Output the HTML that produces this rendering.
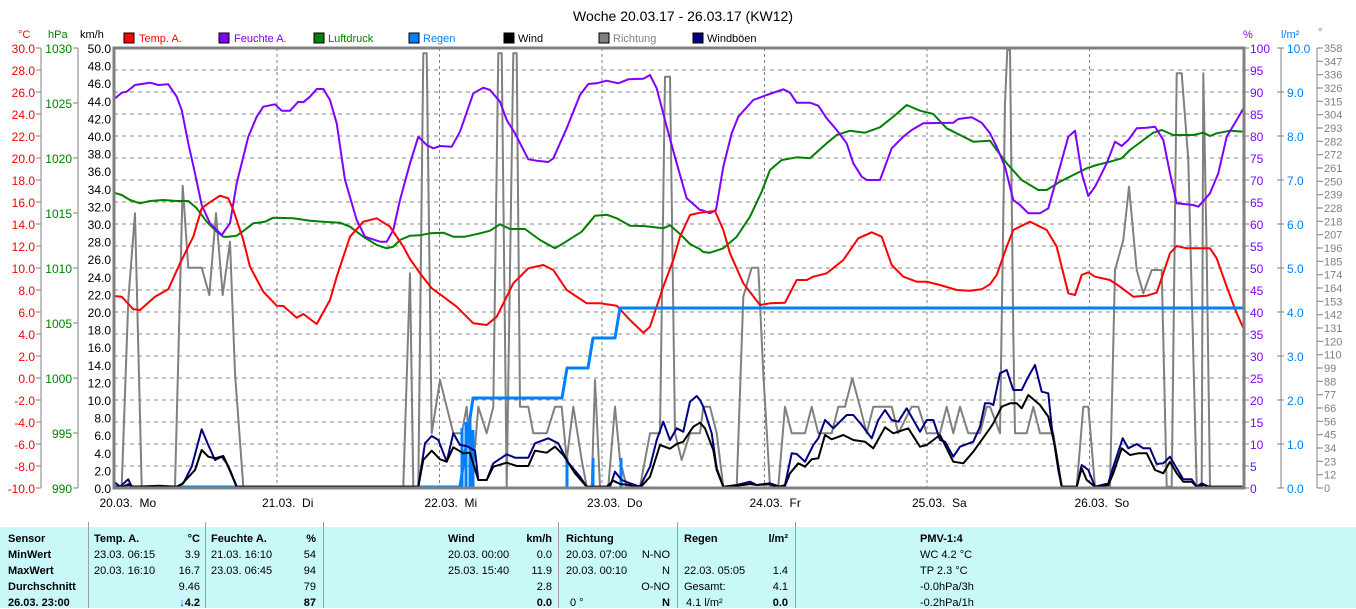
<!DOCTYPE html>
<html><head><meta charset="utf-8">
<style>
html,body{margin:0;padding:0;background:#fff;width:1356px;height:608px;overflow:hidden}
svg{display:block;font-family:"Liberation Sans",sans-serif}
.tb{position:absolute;left:0;top:527px;width:1356px;height:81px;background:#c8f8f8;font-family:"Liberation Sans",sans-serif;font-size:11px}
.tb div{position:absolute;white-space:nowrap;transform-origin:left top}
.b{font-weight:bold}
.sep{position:absolute;top:-5px;width:1px;height:86px;background:#a0a0a0}
</style></head><body>
<svg id="s" width="1356" height="527" viewBox="0 0 1356 527">
<text x="683" y="21" text-anchor="middle" font-size="14" fill="#000">Woche 20.03.17 - 26.03.17 (KW12)</text>
<g font-size="11">
<text x="18" y="38" fill="#f00">°C</text>
<text x="48" y="38" fill="#008000">hPa</text>
<text x="80" y="38" fill="#000">km/h</text>
<text x="1243" y="38" fill="#8000ff">%</text>
<text x="1281" y="38" fill="#0080ff">l/m²</text>
<text x="1318" y="36" fill="#808080">°</text>
<rect x="124" y="33" width="10" height="10" fill="#f00" stroke="#000"/><text x="139" y="42" fill="#f00">Temp. A.</text>
<rect x="219" y="33" width="10" height="10" fill="#8000ff" stroke="#000"/><text x="234" y="42" fill="#8000ff">Feuchte A.</text>
<rect x="314" y="33" width="10" height="10" fill="#008000" stroke="#000"/><text x="328" y="42" fill="#008000">Luftdruck</text>
<rect x="409" y="33" width="10" height="10" fill="#0080ff" stroke="#000"/><text x="423" y="42" fill="#0080ff">Regen</text>
<rect x="504" y="33" width="10" height="10" fill="#000" stroke="#000"/><text x="518" y="42" fill="#000">Wind</text>
<rect x="599" y="33" width="10" height="10" fill="#808080" stroke="#000"/><text x="613" y="42" fill="#808080">Richtung</text>
<rect x="693" y="33" width="10" height="10" fill="#000080" stroke="#000"/><text x="707" y="42" fill="#000">Windböen</text>
</g>
<g id="axes" font-size="12"></g>
<g id="grid"></g>
<g id="series" fill="none" stroke-width="2" stroke-linejoin="round"></g>
<rect x="114" y="48" width="1130" height="440" fill="none" stroke="#808080" stroke-width="3"/>
<g id="days" font-size="12" fill="#000"></g>
</svg>
<div class="tb" id="tb">
<div class="sep" style="left:88px"></div><div class="sep" style="left:205px"></div><div class="sep" style="left:323px"></div><div class="sep" style="left:558px"></div><div class="sep" style="left:677px"></div><div class="sep" style="left:795px"></div>
</div>
<script>
var NS="http://www.w3.org/2000/svg";
function el(p,t,a,txt){var e=document.createElementNS(NS,t);for(var k in a)e.setAttribute(k,a[k]);if(txt!=null)e.textContent=txt;p.appendChild(e);return e;}
var ax=document.getElementById('axes'),gr=document.getElementById('grid'),se=document.getElementById('series'),dy=document.getElementById('days');
// left axes
el(ax,'line',{x1:41,y1:48,x2:41,y2:488,stroke:'#808080'});
el(ax,'line',{x1:78,y1:48,x2:78,y2:488,stroke:'#808080'});
for(var i=0;i<=20;i++){var y=48+22*i;el(ax,'text',{x:35,y:y+5,'text-anchor':'end',fill:'#f00'},(30-2*i).toFixed(1));el(ax,'line',{x1:36,y1:y,x2:41,y2:y,stroke:'#808080'});}
for(var i=0;i<=8;i++){var y=48+55*i;el(ax,'text',{x:72,y:y+5,'text-anchor':'end',fill:'#008000'},1030-5*i);el(ax,'line',{x1:73,y1:y,x2:78,y2:y,stroke:'#808080'});}
for(var i=0;i<=25;i++){var y=48+17.6*i;el(ax,'text',{x:111,y:y+5,'text-anchor':'end',fill:'#000'},(50-2*i).toFixed(1));}
// right axes
for(var i=0;i<=20;i++){var y=48+22*i;el(ax,'text',{x:1250,y:y+5,fill:'#8000ff'},100-5*i);el(ax,'line',{x1:1244,y1:y,x2:1249,y2:y,stroke:'#808080'});}
el(ax,'line',{x1:1281,y1:48,x2:1281,y2:488,stroke:'#808080'});
for(var i=0;i<=10;i++){var y=48+44*i;el(ax,'text',{x:1287,y:y+5,fill:'#0080ff'},(10-i).toFixed(1));el(ax,'line',{x1:1277,y1:y,x2:1284,y2:y,stroke:'#808080'});}
el(ax,'line',{x1:1317,y1:48,x2:1317,y2:488,stroke:'#808080'});
var dg=[358,347,336,326,315,304,293,282,272,261,250,239,228,218,207,196,185,174,164,153,142,131,120,110,99,88,77,66,56,45,34,23,12,0];
for(var i=0;i<dg.length;i++){var y=48+440/33*i;el(ax,'text',{x:1324,y:y+4,fill:'#808080','font-size':'11'},dg[i]);el(ax,'line',{x1:1317,y1:y,x2:1323,y2:y,stroke:'#808080'});}
// grid
for(var i=1;i<20;i++){var y=48+22*i;el(gr,'line',{x1:114,y1:y,x2:1244,y2:y,stroke:'#808080','stroke-dasharray':'4,4'});}
var dn=['20.03.  Mo','21.03.  Di','22.03.  Mi','23.03.  Do','24.03.  Fr','25.03.  Sa','26.03.  So'];
for(var k=0;k<7;k++){var x=114.5+162.5*k;if(k>0)el(gr,'line',{x1:x,y1:48,x2:x,y2:488,stroke:'#808080','stroke-dasharray':'3,3'});var t=el(dy,'text',{x:x-15,y:507},dn[k]);t.setAttribute('xml:space','preserve');t.style.whiteSpace='pre';}
function build(segs){var out=[],last=-1e9;segs.forEach(function(s){s[1].forEach(function(p){var X=s[0]+p[0]/3,Y=40+p[1]/3;if(X>last){out.push(X.toFixed(1)+','+Y.toFixed(1));last=X;}});});return out.join(' ');}
function line(col,segs,w){el(se,'polyline',{points:build(segs),stroke:col,'stroke-width':w||2});}
var gray=[[110,[[12,1340],[35,1340],[55,780],[75,520],[95,1340],[195,1340],[218,437],[235,683],[275,683],[298,765],[318,520],[338,765],[360,605],[375,1000],[400,1340]]],
[400,[[10,1340],[30,700],[40,1340],[55,1340],[70,40],[80,40],[95,1180],[120,1020],[160,1180],[185,1180],[200,1100],[215,1340],[235,1100],[260,1180],[280,1100],[295,40],[305,40],[320,1340],[340,40],[350,40],[360,1100],[385,1100],[400,1180],[440,1180],[465,1100],[485,1100],[500,1260],[520,1100],[545,1260],[560,1340],[575,1340],[585,1020],[600,1340],[625,1340],[645,1100],[660,1260],[680,1340],[720,1340],[750,1180],[780,1180],[795,110],[810,110],[825,1180],[845,1260],[870,1180],[900,1180]]],
[690,[[20,1180],[40,1100],[60,1100],[80,1180],[100,1340],[140,1340],[160,770],[185,683],[205,683],[220,1000],[240,1340],[265,1340],[285,1100],[305,1180],[345,1180],[365,1100],[385,1180],[425,1180],[445,1100],[465,1100],[487,1015],[510,1100],[530,1180],[550,1100],[605,1100],[625,1180],[665,1100],[685,1100],[710,1180],[750,1180],[770,1100],[790,1180],[810,1100],[835,1180],[870,1180],[890,1100],[900,1100]]],
[980,[[20,1180],[60,1180],[75,190],[82,30],[90,30],[100,880],[105,1180],[140,1180],[160,1100],[180,1180],[220,1180],[245,1340],[290,1340],[310,1100],[325,1100],[345,1340],[390,1340],[405,690],[430,600],[447,440],[470,690],[490,760],[515,690],[545,690],[560,1340],[575,1340],[590,100],[605,100],[625,360],[650,1340],[665,1340],[670,100],[680,640],[690,1340],[793,1340]]]];
line('#808080',gray,2);
var green=[[110,[[12,458],[35,465],[60,480],[90,490],[120,483],[160,480],[200,483],[235,483],[260,505],[290,545],[320,575],[340,590],[355,590],[380,587],[400,573],[430,550],[465,545],[490,533],[550,535],[600,542],[650,546],[690,548],[720,560],[760,590],[800,615],[830,625],[850,620],[870,600],[900,587]]],
[400,[[0,605],[25,588],[60,586],[90,580],[130,578],[160,590],[195,590],[240,580],[270,572],[300,553],[330,567],[375,567],[420,600],[465,625],[490,610],[545,575],[585,527],[620,524],[650,535],[690,557],[730,558],[790,565],[810,556],[840,582],[870,612],[900,628]]],
[690,[[0,610],[40,636],[60,638],[100,625],[140,590],[180,530],[215,455],[240,390],[275,360],[320,352],[360,355],[410,310],[440,285],[480,272],[525,278],[570,262],[610,230],[650,195],[690,212],[730,222],[770,265],[810,285],[850,305],[900,302]]],
[980,[[0,305],[25,300],[50,330],[80,370],[125,420],[175,450],[200,450],[240,425],[280,405],[320,385],[350,375],[390,365],[425,355],[450,330],[490,300],[520,278],[545,270],[580,285],[640,285],[670,278],[690,288],[710,280],[750,272],[793,275]]]];
line('#008000',green);
var purple=[[110,[[12,178],[35,158],[50,155],[75,135],[120,128],[145,135],[175,133],[200,170],[215,210],[235,310],[255,400],[275,495],[300,550],[335,585],[360,550],[380,430],[415,290],[440,230],[460,200],[495,193],[515,212],[540,212],[565,185],[580,187],[600,170],[620,147],[640,147],[660,180],[680,250],[705,420],[740,540],[765,590],[810,605],[830,605],[850,570],[870,480],[900,370]]],
[400,[[5,465],[55,290],[80,315],[100,325],[120,318],[155,320],[180,275],[220,160],[250,143],[270,150],[300,185],[320,240],[345,280],[385,358],[410,362],[445,366],[460,355],[500,265],[540,165],[565,132],[590,130],[620,122],[655,130],[685,118],[730,116],[750,105],[770,145],[800,260],[830,370],[860,475],[900,510]]],
[690,[[35,510],[60,520],[78,510],[100,380],[125,280],[145,230],[190,180],[230,165],[280,148],[300,158],[320,188],[360,188],[385,197],[410,235],[440,270],[470,310],[490,370],[515,410],[530,420],[570,420],[605,325],[640,290],[665,270],[700,250],[790,248],[805,237],[845,232],[875,248],[900,280]]],
[980,[[25,265],[50,320],[75,380],[100,480],[120,495],[145,520],[180,520],[205,505],[240,380],[265,290],[285,272],[305,400],[325,468],[345,440],[380,370],[405,305],[425,318],[445,300],[470,265],[500,263],[525,260],[550,300],[570,400],[590,490],[640,495],[655,500],[690,460],[715,400],[740,290],[770,240],[793,200]]]];
line('#8000ff',purple);
var red=[[110,[[12,768],[35,770],[70,808],[90,810],[135,770],[175,748],[210,670],[250,590],[275,505],[295,490],[330,467],[355,475],[370,510],[400,600],[420,680],[460,755],[500,797],[520,798],[560,833],[580,822],[620,852],[660,780],[680,710],[720,590],[760,545],[800,535],[840,560],[880,620],[900,657]]],
[400,[[5,615],[30,660],[60,700],[95,745],[130,770],[170,800],[220,850],[260,855],[290,830],[340,730],[385,685],[430,675],[460,690],[500,750],[560,790],[600,790],[650,797],[690,840],[730,878],[750,860],[790,740],[820,660],[840,590],[870,525],[900,518]]],
[690,[[30,515],[75,513],[100,570],[120,640],[160,730],[210,795],[240,790],[285,788],[320,720],[350,720],[370,710],[410,700],[460,660],[505,595],[545,577],[575,590],[605,675],[640,710],[680,725],[710,725],[750,735],[800,750],[840,752],[875,748],[900,733]]],
[980,[[20,745],[50,705],[80,620],[100,570],[150,545],[200,570],[230,620],[265,760],[285,765],[305,705],[325,697],[345,710],[390,720],[420,740],[460,770],[500,767],[530,758],[550,700],[570,640],[590,618],[620,625],[690,625],[710,655],[740,740],[770,820],[793,870]]]];
line('#ff0000',red);
// rain
el(se,'polyline',{points:'114,487 460,487 473,398 562,398 567,368 588,368 593,338 615,338 620,308 1244,308',stroke:'#0080ff','stroke-width':3});
[[462,428],[466,422],[470,418],[473,430],[567,458],[593,458],[621,458]].forEach(function(p){el(se,'line',{x1:p[0],y1:488,x2:p[0],y2:p[1],stroke:'#0080ff','stroke-width':3});});
var navy=[[110,[[12,1325],[30,1340],[55,1318],[65,1340],[150,1337],[200,1340],[220,1330],[245,1280],[275,1168],[295,1215],[315,1260],[335,1250],[350,1270],[380,1340],[410,1340]]],
[400,[[30,1340],[55,1340],[75,1210],[95,1188],[115,1200],[140,1265],[160,1180],[180,1215],[200,1218],[225,1232],[235,1320],[260,1320],[280,1270],[320,1243],[345,1253],[385,1253],[405,1210],[445,1195],[475,1210],[505,1268],[540,1310],[560,1340],[600,1340],[630,1340],[645,1295],[665,1320],[690,1330],[720,1340],[750,1280],[770,1200],[790,1145],[810,1200],[830,1165],[850,1175],[870,1085],[890,1068],[900,1080]]],
[690,[[20,1065],[40,1100],[65,1180],[80,1285],[100,1340],[140,1335],[180,1325],[200,1335],[240,1330],[270,1340],[285,1335],[305,1240],[320,1242],[345,1265],[370,1215],[385,1195],[405,1140],[430,1165],[470,1125],[490,1125],[515,1155],[545,1195],[565,1140],[585,1110],[605,1140],[625,1145],[650,1105],[690,1175],[710,1140],[730,1140],[750,1200],[765,1205],[790,1250],[810,1220],[850,1205],[870,1160],[885,1090],[900,1090]]],
[980,[[20,1085],[40,1095],[60,1000],[80,990],[100,1050],[125,1050],[145,1010],[165,975],[185,1055],[205,1060],[215,1160],[235,1290],[245,1340],[290,1340],[305,1275],[325,1290],[345,1340],[385,1330],[400,1280],[428,1195],[445,1225],[470,1212],[490,1225],[510,1225],[530,1272],[550,1270],[570,1250],[590,1285],[610,1318],[635,1318],[650,1340],[665,1330],[685,1340],[793,1340]]]];
line('#000080',navy);
var black=[[110,[[12,1340],[40,1340],[55,1333],[70,1340],[150,1340],[200,1340],[215,1333],[255,1290],[275,1230],[295,1250],[315,1255],[340,1248],[360,1290],[380,1340],[410,1340]]],
[400,[[30,1340],[55,1340],[70,1260],[95,1232],[120,1258],[140,1265],[160,1222],[190,1240],[210,1238],[235,1320],[260,1320],[280,1280],[320,1268],[350,1278],[385,1278],[405,1232],[440,1238],[465,1220],[490,1245],[525,1300],[560,1340],[600,1340],[620,1340],[640,1322],[660,1332],[690,1335],[700,1340],[725,1338],[750,1310],[780,1215],[810,1226],[830,1212],[850,1205],[880,1160],[900,1148]]],
[690,[[20,1148],[45,1165],[70,1230],[80,1290],[100,1340],[160,1335],[180,1332],[200,1335],[240,1333],[260,1340],[285,1337],[300,1300],[325,1270],[345,1280],[365,1258],[385,1255],[405,1185],[425,1198],[460,1185],[490,1200],[525,1205],[550,1225],[585,1162],[610,1180],[655,1165],[690,1220],[710,1215],[750,1185],[790,1265],[820,1270],[850,1235],[900,1165]]],
[980,[[40,1150],[65,1100],[90,1090],[110,1090],[125,1105],[145,1065],[180,1095],[205,1130],[225,1220],[245,1340],[290,1340],[305,1285],[320,1320],[345,1340],[385,1335],[400,1300],[425,1225],[450,1245],[475,1240],[500,1240],[525,1290],[550,1300],[570,1265],[590,1300],[610,1325],[635,1325],[650,1340],[670,1335],[690,1340],[793,1340]]]];
line('#000000',black);
// table
var tb=document.getElementById('tb');
function T(x,y,s,cls,right){var d=document.createElement('div');d.textContent=s;if(cls)d.className=cls;d.style.top=(y-527)+'px';if(right){d.style.right=(1356-x)+'px';}else d.style.left=x+'px';tb.appendChild(d);return d;}
var rows=[533,549,565,581,597];
['Sensor','MinWert','MaxWert','Durchschnitt','26.03. 23:00'].forEach(function(s,i){T(8,rows[i],s,'b');});
T(94,rows[0],'Temp. A.','b');T(200,rows[0],'°C','b',1);
T(94,rows[1],'23.03.  06:15');T(200,rows[1],'3.9','',1);
T(94,rows[2],'20.03.  16:10');T(200,rows[2],'16.7','',1);
T(200,rows[3],'9.46','',1);
var a=T(200,rows[4],'','b',1);a.innerHTML='<span style="color:#0040ff">↓</span>4.2';
T(211,rows[0],'Feuchte A.','b');T(316,rows[0],'%','b',1);
T(211,rows[1],'21.03.  16:10');T(316,rows[1],'54','',1);
T(211,rows[2],'23.03.  06:45');T(316,rows[2],'94','',1);
T(316,rows[3],'79','',1);T(316,rows[4],'87','b',1);
T(448,rows[0],'Wind','b');T(552,rows[0],'km/h','b',1);
T(448,rows[1],'20.03.  00:00');T(552,rows[1],'0.0','',1);
T(448,rows[2],'25.03.  15:40');T(552,rows[2],'11.9','',1);
T(552,rows[3],'2.8','',1);T(552,rows[4],'0.0','b',1);
T(566,rows[0],'Richtung','b');
T(566,rows[1],'20.03.  07:00');T(670,rows[1],'N-NO','',1);
T(566,rows[2],'20.03.  00:10');T(670,rows[2],'N','',1);
T(670,rows[3],'O-NO','',1);T(570,rows[4],'0 °');T(670,rows[4],'N','b',1);
T(684,rows[0],'Regen','b');T(788,rows[0],'l/m²','b',1);
T(684,rows[2],'22.03.  05:05');T(788,rows[2],'1.4','',1);
T(684,rows[3],'Gesamt:');T(788,rows[3],'4.1','',1);
T(686,rows[4],'4.1 l/m²');T(788,rows[4],'0.0','b',1);
T(920,rows[0],'PMV-1:4','b');T(920,rows[1],'WC 4.2 °C');T(920,rows[2],'TP 2.3 °C');T(920,rows[3],'-0.0hPa/3h');T(920,rows[4],'-0.2hPa/1h');
</script>
</body></html>
